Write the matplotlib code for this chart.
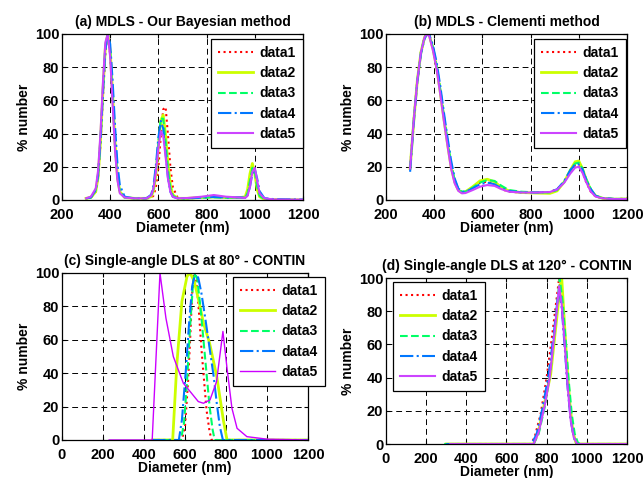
import matplotlib
matplotlib.use('Agg')
import matplotlib.pyplot as plt

plt.rcParams['font.family'] = ['Liberation Sans', 'DejaVu Sans']
plt.rcParams['font.weight'] = 'bold'

labels = ['data1', 'data2', 'data3', 'data4', 'data5']
colors = ['#ff0000', '#ccff00', '#00ff66', '#0077ff', '#cc44ff']
styles = [':', '-', '--', '-.', '-']

# (a) MDLS - Bayesian
xa = [300, 320, 340, 350, 360, 370, 380, 390, 400, 410, 420, 430, 440, 460, 500,
      550, 570, 580, 590, 600, 610, 620, 630, 640, 650, 660, 680, 720, 780, 830,
      880, 940, 960, 970, 980, 990, 1000, 1010, 1020, 1040, 1080, 1200]
a1 = [1, 1.5, 5, 14, 34, 62, 89, 100, 88, 62, 34, 14, 5, 1.5, 1,
      1, 1.3, 2.7, 7.8, 19.3, 38.6, 54.6, 56, 38.6, 19.3, 7.8, 1.3, 1, 1.5, 2,
      1.5, 1.5, 1.2, 3, 9.7, 18, 18, 9.7, 3, 0.5, 0.2, 0]
a2 = [1, 1.5, 5, 14, 36, 66, 92, 100, 90, 64, 35, 14, 5, 1.5, 1,
      1, 2, 5.8, 15.5, 32, 47.9, 51.2, 39, 21.4, 8.8, 3.1, 1, 1, 1.5, 1.8,
      1.5, 1.5, 1.9, 6.2, 15.8, 22, 15.8, 6.2, 1.9, 0.5, 0.2, 0]
a3 = [1, 1.5, 6, 16, 38, 68, 93, 100, 90, 63, 34, 14, 5, 1.5, 1,
      1, 2.5, 7, 18, 35, 49, 49, 35, 18, 7, 2.5, 1, 1, 1.4, 1.6,
      1.4, 1.5, 1.4, 4, 11.6, 19.4, 17, 8, 2.5, 0.5, 0.2, 0]
a4 = [1, 1.5, 6, 15, 36, 64, 90, 100, 94, 72, 45, 22, 9, 2, 1,
      1, 3.2, 9, 21.4, 37.7, 47.7, 43, 27.8, 13, 4.9, 1.9, 1, 1, 1.4, 1.8,
      1.5, 1.6, 1.3, 2.8, 7.9, 15.9, 18.8, 12.8, 5.3, 1.1, 0.5, 0.3]
a5 = [1, 2, 7, 18, 41, 71, 95, 100, 86, 58, 30, 12, 4, 1.5, 1,
      1, 2.7, 7.2, 17.4, 31.6, 41.4, 38.7, 25.9, 12.6, 4.8, 1.9, 1, 1.2, 2, 3,
      2, 1.5, 1.2, 2.5, 8, 17, 19.4, 11.6, 4, 1, 0.3, 0.2]

# (b) MDLS - Clementi
xb = [300, 315, 330, 345, 360, 370, 380, 395, 410, 425, 440, 455, 470, 485, 500,
      515, 530, 560, 590, 620, 650, 680, 710, 760, 820, 880, 910, 940, 965, 985,
      1000, 1015, 1030, 1050, 1070, 1100, 1150, 1200]
b1 = [19, 48, 72, 89, 98, 100, 99, 91, 80, 66, 50, 35, 21, 11, 6,
      4.5, 5, 7.5, 10.5, 11, 9.5, 6.5, 5, 4.5, 4.5, 4.8, 6.5, 11, 17, 21,
      21, 17, 11, 5, 2, 1, 0.6, 0.8]
b2 = [19, 47, 72, 89, 98, 100, 99, 91, 80, 65, 49, 34, 20, 11, 6,
      4.5, 5, 8, 11.5, 12.5, 11, 7.5, 5.5, 4.5, 4.2, 4, 5.5, 11, 18, 23,
      23.5, 19, 12.5, 6, 2.5, 1, 0.5, 0.6]
b3 = [19, 48, 72, 89, 98, 100, 99, 92, 81, 67, 51, 36, 22, 12, 6.5,
      5, 5, 7.5, 10.5, 12, 11.5, 8.5, 6, 5, 4.6, 4.6, 6, 11, 18, 22,
      22.5, 19, 13, 6.5, 2.5, 1, 0.6, 0.7]
b4 = [17, 46, 71, 88, 97, 100, 99.5, 93, 83, 69, 53, 38, 24, 13, 7,
      5, 5, 7, 9.5, 10.5, 9.5, 7, 5.5, 4.6, 4.5, 4.8, 6.5, 11.5, 18, 21.5,
      21.5, 18.5, 12.5, 6.5, 2.5, 1.2, 0.6, 0.6]
b5 = [19, 48, 72, 89, 98, 100, 98.5, 90, 79, 64, 48, 33, 19, 10, 5.5,
      4, 4.2, 6, 8, 9, 8.5, 6.5, 5, 4.5, 4.5, 4.8, 6.3, 10.5, 16, 19.5,
      20, 16.5, 11, 5, 2, 1, 0.5, 0.6]

# (c) single angle 80 deg - CONTIN
xc1 = [440, 585, 600, 615, 625, 635, 645, 655, 665, 680, 690, 705, 720, 730, 1200]
c1 = [0, 0, 8, 35, 60, 88, 100, 95, 82, 55, 40, 18, 5, 0, 0]
xc2 = [440, 540, 560, 585, 610, 625, 645, 670, 690, 720, 755, 787, 805, 1200]
c2 = [0, 0, 45, 83, 98, 100, 95, 82, 70, 58, 38, 12, 0, 0]
xc3 = [440, 580, 595, 610, 625, 640, 650, 660, 675, 690, 705, 720, 735, 745, 1200]
c3 = [0, 0, 10, 35, 68, 95, 100, 96, 80, 60, 40, 20, 6, 0, 0]
xc4 = [440, 570, 585, 605, 620, 635, 650, 665, 680, 700, 720, 740, 755, 770, 785, 1200]
c4 = [0, 0, 12, 43, 70, 92, 100, 97, 88, 72, 55, 38, 22, 8, 0, 0]
xc5 = [230, 440, 478, 507, 543, 592, 665, 690, 722, 754, 785, 805, 829, 854, 902, 1000, 1200]
c5 = [0, 0, 100, 73, 50, 34, 23, 22, 24, 35, 65, 43, 19, 7, 2, 0.5, 0]

# (d) single angle 120 deg - CONTIN
xd1 = [300, 720, 740, 770, 800, 830, 850, 862, 875, 890, 905, 920, 935, 948, 1200]
d1 = [0, 0, 4, 18, 40, 68, 88, 100, 85, 60, 35, 15, 5, 0, 0]
xd2 = [300, 735, 760, 790, 820, 845, 865, 875, 885, 900, 915, 930, 945, 955, 1200]
d2 = [0, 0, 8, 25, 42, 70, 92, 100, 80, 50, 25, 8, 1, 0, 0]
xd3 = [290, 735, 760, 790, 820, 845, 865, 880, 895, 910, 925, 940, 955, 965, 1200]
d3 = [0, 0, 6, 22, 45, 75, 100, 85, 62, 38, 18, 6, 1, 0, 0]
xd4 = [300, 725, 750, 780, 810, 835, 855, 862, 875, 890, 905, 920, 935, 950, 1200]
d4 = [0, 0, 6, 22, 42, 66, 88, 93, 82, 58, 33, 14, 4, 0, 0]
xd5 = [320, 735, 760, 790, 815, 840, 858, 862, 875, 890, 905, 920, 935, 952, 1200]
d5 = [0, 0, 7, 23, 40, 68, 90, 95, 84, 60, 34, 14, 4, 0, 0]


def style_axes(ax, title, xlim, xticks):
    ax.set_xlim(xlim)
    ax.set_ylim(0, 100)
    ax.set_xticks(xticks)
    ax.set_yticks([0, 20, 40, 60, 80, 100])
    ax.grid(True, color='black', linestyle=(0, (6, 4)), linewidth=0.7)
    ax.tick_params(direction='in', length=3, labelsize=10.5, top=True, right=True)
    ax.tick_params(axis='x', pad=6)
    ax.tick_params(axis='y', pad=2)
    for lab in ax.get_xticklabels() + ax.get_yticklabels():
        lab.set_fontweight('bold')
    for s in ax.spines.values():
        s.set_linewidth(0.9)
    ax.set_title(title, fontsize=10, fontweight='bold', pad=6)
    ax.set_xlabel('Diameter (nm)', fontsize=10, fontweight='bold', labelpad=-1)
    ax.set_ylabel('% number', fontsize=10, fontweight='bold', labelpad=3)


def add_legend(ax, loc, anchor):
    leg = ax.legend(loc=loc, bbox_to_anchor=anchor,
                    prop={'weight': 'bold', 'size': 10}, fancybox=False,
                    framealpha=1, edgecolor='black', borderaxespad=0,
                    handlelength=2.5, labelspacing=0.45, borderpad=0.5,
                    handletextpad=0.5)
    leg.get_frame().set_linewidth(0.9)


fig = plt.figure(figsize=(6.43, 4.78), dpi=100)
ax_a = fig.add_axes([0.0964, 0.5816, 0.3748, 0.3473])
ax_b = fig.add_axes([0.6003, 0.5816, 0.3748, 0.3473])
ax_c = fig.add_axes([0.0964, 0.0795, 0.3826, 0.3494])
ax_d = fig.add_axes([0.6003, 0.0711, 0.3748, 0.3473])

widths = [1.5, 2.0, 1.5, 1.5, 1.5]

for y, lab, col, ls, lw in zip([a1, a2, a3, a4, a5], labels, colors, styles, widths):
    ax_a.plot(xa, y, color=col, linestyle=ls, linewidth=lw, label=lab)
style_axes(ax_a, '(a) MDLS - Our Bayesian method', (200, 1200),
           [200, 400, 600, 800, 1000, 1200])
add_legend(ax_a, 'upper right', (1.0, 0.97))

for y, lab, col, ls, lw in zip([b1, b2, b3, b4, b5], labels, colors, styles, widths):
    ax_b.plot(xb, y, color=col, linestyle=ls, linewidth=lw, label=lab)
style_axes(ax_b, '(b) MDLS - Clementi method', (200, 1200),
           [200, 400, 600, 800, 1000, 1200])
add_legend(ax_b, 'upper right', (0.996, 0.97))

xcs = [xc1, xc2, xc3, xc4, xc5]
ycs = [c1, c2, c3, c4, c5]
colors_c = colors[:4] + ['#cc00ff']
widths_c = [1.5, 2.0, 1.5, 1.5, 1.0]
for x, y, lab, col, ls, lw in zip(xcs, ycs, labels, colors_c, styles, widths_c):
    ax_c.plot(x, y, color=col, linestyle=ls, linewidth=lw, label=lab)
style_axes(ax_c, '(c) Single-angle DLS at 80° - CONTIN', (0, 1200),
           [0, 200, 400, 600, 800, 1000, 1200])
add_legend(ax_c, 'upper right', (1.069, 0.976))

xds = [xd1, xd2, xd3, xd4, xd5]
yds = [d1, d2, d3, d4, d5]
for x, y, lab, col, ls, lw in zip(xds, yds, labels, colors, styles, widths):
    ax_d.plot(x, y, color=col, linestyle=ls, linewidth=lw, label=lab)
style_axes(ax_d, '(d) Single-angle DLS at 120° - CONTIN', (0, 1200),
           [0, 200, 400, 600, 800, 1000, 1200])
add_legend(ax_d, 'upper left', (0.029, 0.976))

fig.savefig('out.png', dpi=100)
